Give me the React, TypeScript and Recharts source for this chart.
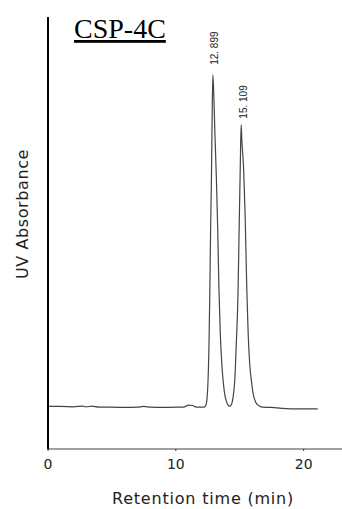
import { LineChart, Line, XAxis, YAxis, ReferenceDot } from 'recharts';

// chromatogram trace: retention time (min) and detector response (rel. units)
const times = [
  0, 1, 2, 2.7, 3.0, 3.4, 4, 5, 6, 7, 7.5, 8, 9, 10, 10.6, 11.0, 11.3, 11.6, 12,
  12.2, 12.35, 12.45, 12.52, 12.6, 12.66, 12.72, 12.79, 12.85, 12.9, 12.97, 13.06, 13.18, 13.28, 13.37, 13.48, 13.6, 13.7, 13.82, 13.95, 14.08, 14.22,
  14.35, 14.48, 14.61, 14.72, 14.87, 14.96, 15.04, 15.11, 15.17, 15.3, 15.42, 15.55, 15.66, 15.78, 15.91, 16.05, 16.25, 16.5, 16.75,
  17.5, 18.3, 19, 20, 21.1,
];
const absorbance = [
  0.2, 0.2, 0.1, 0.3, 0.1, 0.3, 0, 0, -0.1, 0, 0.2, 0, -0.1, 0, 0, 0.6, 0.5, 0, 0,
  0, 0.6, 3, 8, 20, 35, 53, 70, 90, 100, 94, 82, 68, 53, 36, 22, 13, 8, 4, 1.8, 0.7, 0.3,
  0.8, 3, 8, 18, 35, 55, 72, 85, 80, 72, 58, 36, 22, 13, 8, 4, 1.5, 0.4, 0,
  -0.1, -0.4, -0.5, -0.5, -0.5,
];

const peakTimes = [12.899, 15.109];
const peakHeights = [100, 85];
const peakLabels = ['12. 899', '15. 109'];

const xTicks = [0, 10, 20];

const data = times.map((t, i) => ({ t, v: absorbance[i] }));

const sans = '"DejaVu Sans", Verdana, sans-serif';

const PeakLabel = (props: any) => {
  const { viewBox, value, gap } = props;
  const x = viewBox.x + 2;
  const y = viewBox.y - gap;
  return (
    <text
      x={x}
      y={y}
      transform={`rotate(-90 ${x} ${y})`}
      textAnchor="start"
      dominantBaseline="central"
      fontFamily='"Liberation Sans", Arial, sans-serif'
      fontSize={10}
      fill="#222"
    >
      {value}
    </text>
  );
};

const App = () => {
  return (
    <div style={{ position: 'absolute', left: 0, top: 0 }}>
      <LineChart width={342} height={509} data={data} margin={{ top: 17, right: 0, bottom: 0, left: 0 }}>
        <XAxis
          dataKey="t"
          type="number"
          domain={[0, 23]}
          ticks={xTicks}
          height={60}
          axisLine={{ stroke: '#808080', strokeWidth: 1.5 }}
          tickLine={{ stroke: '#333' }}
          tickSize={2}
          tick={{ fontFamily: sans, fontSize: 14, fill: '#222', dy: 6 }}
          allowDataOverflow
        />
        <YAxis
          type="number"
          domain={[-12.6, 117.4]}
          width={48}
          tick={false}
          tickLine={false}
          axisLine={{ stroke: '#000', strokeWidth: 2 }}
          allowDataOverflow
        />
        <Line
          type="monotone"
          dataKey="v"
          stroke="#444"
          strokeWidth={1.2}
          dot={false}
          isAnimationActive={false}
        />
        {peakTimes.map((pt, i) => (
          <ReferenceDot
            key={pt}
            x={pt}
            y={peakHeights[i]}
            r={0}
            stroke="none"
            fill="none"
            label={<PeakLabel value={peakLabels[i]} gap={i === 0 ? 10 : 6} />}
          />
        ))}
        <text x={74} y={38} fontFamily='"Liberation Serif", "Times New Roman", serif' fontSize={28} textDecoration="underline" fill="#000">
          CSP-4C
        </text>
        <text x={22} y={214} transform="rotate(-90 22 214)" textAnchor="middle" dominantBaseline="central" fontFamily={sans} fontSize={16} letterSpacing={0.6} fill="#222">
          UV Absorbance
        </text>
        <text x={203} y={498} textAnchor="middle" dominantBaseline="central" fontFamily={sans} fontSize={16} letterSpacing={0.8} fill="#222">
          Retention time (min)
        </text>
      </LineChart>
    </div>
  );
};

export default App;
